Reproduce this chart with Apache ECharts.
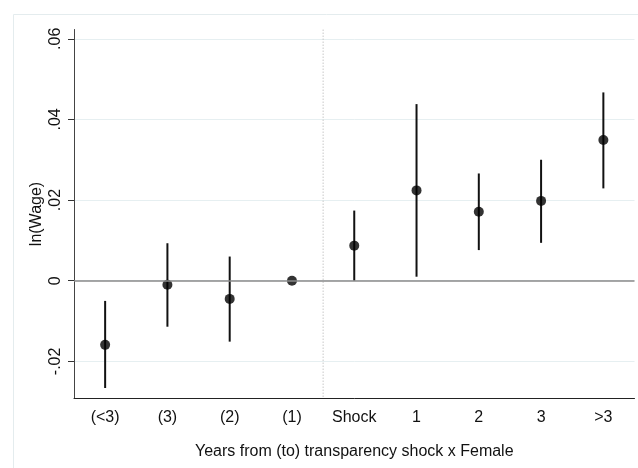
<!DOCTYPE html>
<html>
<head>
<meta charset="utf-8">
<script src="https://cdn.jsdelivr.net/npm/echarts@6/dist/echarts.min.js"></script>
<style>html,body{margin:0;padding:0;background:#fff}#c{width:638px;height:468px}</style>
</head>
<body>
<div id="c"></div>
<script>
var categories = ['(<3)', '(3)', '(2)', '(1)', 'Shock', '1', '2', '3', '>3'];
var estimates = [-0.0159, -0.0010, -0.0045, 0.0000, 0.0087, 0.0224, 0.0171, 0.0198, 0.0349];
var ciLow =     [-0.0266, -0.0114, -0.0151, 0.0000, 0.0000, 0.0010, 0.0076, 0.0094, 0.0229];
var ciHigh =    [-0.0050, 0.0093, 0.0060, 0.0000, 0.0174, 0.0438, 0.0266, 0.0300, 0.0467];
var yTicks = [-0.02, 0, 0.02, 0.04, 0.06];
var dividerBetween = ['(1)', 'Shock'];

var FONT = 'Liberation Sans, Arial, Helvetica, sans-serif';
function fmt(v) {
  if (Math.abs(v) < 1e-9) return '0';
  return (v < 0 ? '-' : '') + Math.abs(v).toFixed(2).replace(/^0/, '');
}

var chart = echarts.init(document.getElementById('c'), null, {renderer: 'canvas'});
var errData = categories.map(function (c, i) { return [i, ciLow[i], ciHigh[i]]; });
var ptData = categories.map(function (c, i) { return [i, estimates[i]]; });

chart.setOption({
  animation: false,
  backgroundColor: '#fff',
  graphic: [{
    type: 'rect', left: 11, top: 12, shape: {width: 700, height: 600},
    style: {fill: 'none', stroke: '#e4ecee', lineWidth: 1}, silent: true, z: -10
  }],
  grid: {left: 74, right: 3.5, top: 29.5, bottom: 69.5, containLabel: false},
  xAxis: {
    type: 'category',
    data: categories,
    boundaryGap: true,
    name: 'Years from (to) transparency shock x Female',
    nameLocation: 'middle',
    nameGap: 45,
    nameTextStyle: {fontFamily: FONT, fontSize: 16, color: '#111'},
    axisLine: {onZero: false, lineStyle: {color: '#222', width: 1}},
    axisTick: {alignWithLabel: true, length: 6, lineStyle: {color: '#222'}},
    axisLabel: {fontFamily: FONT, fontSize: 16, color: '#111', margin: 11, interval: 0},
    splitLine: {show: false}
  },
  yAxis: {
    type: 'value',
    min: -0.0292,
    max: 0.0623,
    name: 'ln(Wage)',
    nameLocation: 'middle',
    nameRotate: 90,
    nameGap: 29,
    nameMoveOverlap: false,
    nameTextStyle: {fontFamily: FONT, fontSize: 16, color: '#111'},
    axisLine: {show: true, onZero: false, lineStyle: {color: '#444', width: 1}},
    axisTick: {show: true, length: 6, lineStyle: {color: '#333', width: 1}, customValues: yTicks},
    axisLabel: {fontFamily: FONT, fontSize: 16, color: '#111', rotate: 90, margin: 10,
      customValues: yTicks, formatter: fmt, align: 'center', verticalAlign: 'bottom'},
    splitLine: {show: true, lineStyle: {color: '#e6eff1', width: 1}}
  },
  series: [
    {
      type: 'custom',
      z: 1,
      silent: true,
      data: [[categories.indexOf(dividerBetween[0]), categories.indexOf(dividerBetween[1])]],
      renderItem: function (params, api) {
        var a = api.coord([api.value(0), 0])[0];
        var b = api.coord([api.value(1), 0])[0];
        var x = (a + b) / 2;
        var cs = params.coordSys;
        return {
          type: 'line',
          shape: {x1: x, y1: cs.y, x2: x, y2: cs.y + cs.height},
          style: {stroke: '#c8c8c8', lineWidth: 1, lineDash: [1.5, 1.5]}
        };
      },
      markLine: {
        silent: true, symbol: 'none', label: {show: false},
        lineStyle: {color: '#8a8a8a', width: 1.5, type: 'solid'},
        data: [{yAxis: 0}]
      }
    },
    {
      type: 'custom',
      z: 2,
      silent: true,
      data: errData,
      encode: {x: 0, y: [1, 2]},
      renderItem: function (params, api) {
        var p1 = api.coord([api.value(0), api.value(1)]);
        var p2 = api.coord([api.value(0), api.value(2)]);
        return {
          type: 'line',
          shape: {x1: p1[0], y1: p1[1], x2: p2[0], y2: p2[1]},
          style: {stroke: '#111', lineWidth: 2}
        };
      }
    },
    {
      type: 'scatter',
      z: 3,
      symbol: 'circle',
      symbolSize: 10,
      itemStyle: {color: '#000'},
      data: ptData
    }
  ]
});
</script>
</body>
</html>
